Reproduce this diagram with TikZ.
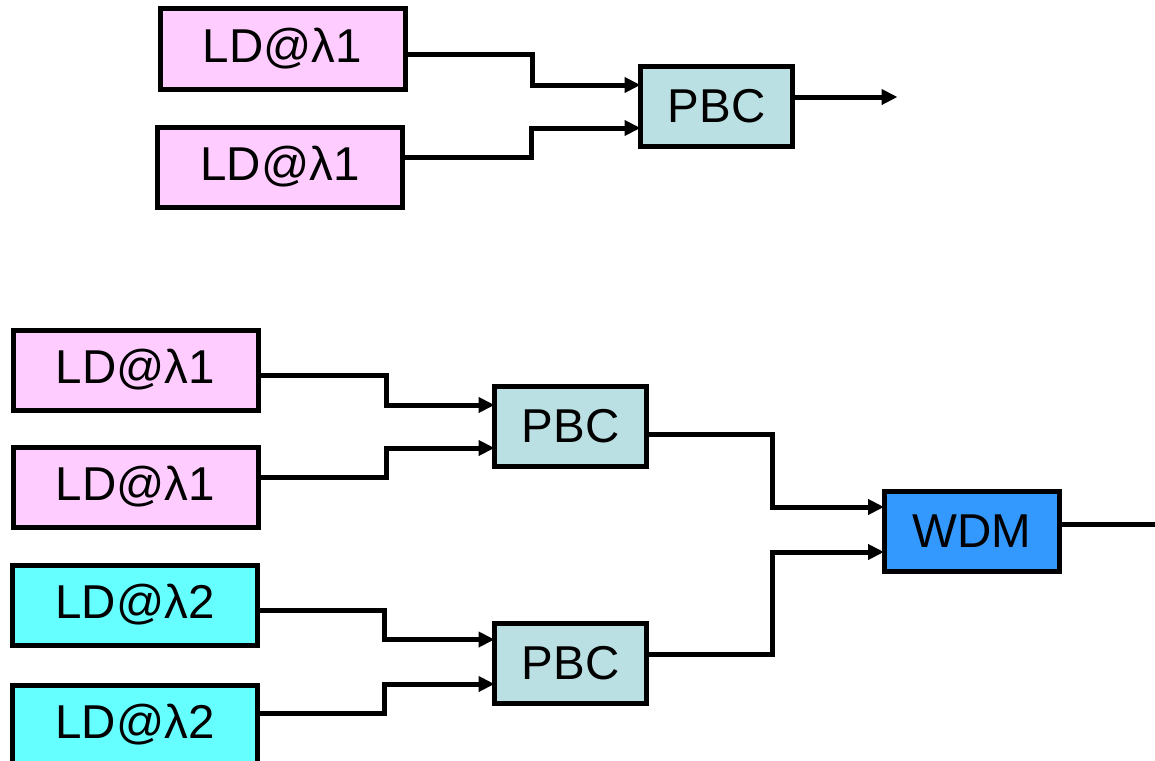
\documentclass[tikz,border=0pt]{standalone}
\usepackage{fontspec}
\setmainfont{Liberation Sans}
\usetikzlibrary{arrows.meta}
\definecolor{ldpink}{HTML}{FFCCFF}
\definecolor{ldcyan}{HTML}{66FFFF}
\definecolor{pbcfill}{HTML}{BAE0E4}
\definecolor{wdmfill}{HTML}{3399FF}
\tikzset{
  blk/.style={draw=black, line width=5pt, rectangle, outer sep=0pt,
    inner sep=0pt, font=\fontsize{47.5}{52}\selectfont},
  ldone/.style={blk, fill=ldpink, minimum width=245pt, minimum height=80pt},
  ldtwo/.style={blk, fill=ldcyan, minimum width=245pt, minimum height=80pt},
  pbc/.style={blk, fill=pbcfill, minimum width=152pt, minimum height=80pt},
  wdm/.style={blk, fill=wdmfill, minimum width=175pt, minimum height=80pt},
  wire/.style={line width=5pt, line join=miter},
  feed/.style={wire, -{Triangle[length=16pt,width=15pt]}},
}
\begin{document}
\begin{tikzpicture}[x=1pt, y=-1pt]
\useasboundingbox (0,0) rectangle (1155,760);

% two lasers at the same wavelength combined by polarisation
\node[ldone] (ldA) at (282.5,49) {LD@λ1};
\node[ldone] (ldB) at (280,167) {LD@λ1};
\node[pbc] (pbcT) at (716.5,106.5) {PBC};

\draw[feed] ([yshift=-6pt]ldA.east) -- ++(127,0) |- ([yshift=21.5pt]pbcT.west);
\draw[feed] ([yshift=10pt]ldB.east) -- ++(129,0) |- ([yshift=-21.5pt]pbcT.west);
\draw[feed] ([yshift=9.5pt]pbcT.east) -- ++(105,0);

% four lasers: polarisation pairs, then wavelength multiplexing
\node[ldone] (ldC) at (135.5,370) {LD@λ1};
\node[ldone] (ldD) at (135.5,487) {LD@λ1};
\node[ldtwo] (ldE) at (135,605) {LD@λ2};
\node[ldtwo] (ldF) at (135,725) {LD@λ2};
\node[pbc] (pbcU) at (570.5,426.5) {PBC};
\node[pbc] (pbcL) at (570.5,663.5) {PBC};
\node[wdm] (wdm) at (971.5,531) {WDM};

\draw[feed] ([yshift=-5pt]ldC.east) -- ++(128,0) |- ([yshift=21.5pt]pbcU.west);
\draw[feed] ([yshift=10pt]ldD.east) -- ++(128,0) |- ([yshift=-21.5pt]pbcU.west);
\draw[feed] ([yshift=-5pt]ldE.east) -- ++(127,0) |- ([yshift=24pt]pbcL.west);
\draw[feed] ([yshift=12pt]ldF.east) -- ++(127,0) |- ([yshift=-20.5pt]pbcL.west);

\draw[feed] ([yshift=-7.5pt]pbcU.east) -- ++(126,0) |- ([yshift=24pt]wdm.west);
\draw[feed] ([yshift=9.5pt]pbcL.east) -- ++(126,0) |- ([yshift=-21pt]wdm.west);
\draw[wire] ([yshift=7pt]wdm.east) -- ++(110,0);
\end{tikzpicture}
\end{document}
